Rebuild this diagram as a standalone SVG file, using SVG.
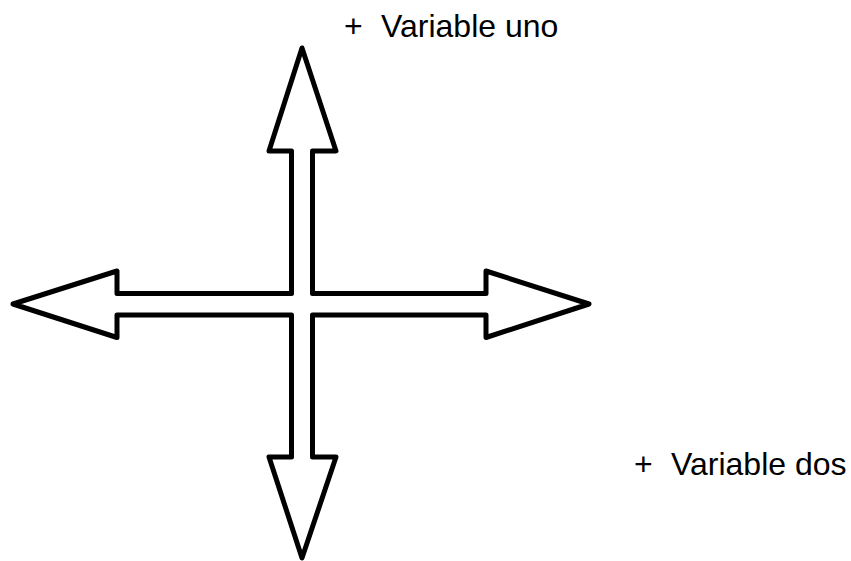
<svg xmlns="http://www.w3.org/2000/svg" width="851" height="561" viewBox="0 0 851 561">
<style>
.arrow{fill:#ffffff;stroke:#000000;stroke-width:5;stroke-linejoin:round}
.lbl{font-family:"Liberation Sans",Arial,sans-serif;font-size:32px;fill:#000000}
</style>
<rect width="851" height="561" fill="#ffffff"/>
<g id="cross-arrow">
<polygon class="arrow" points="302,48 336,151 312.5,151 312.5,293.5 486,293.5 486,271 589,304 486,337.5 486,315 312.5,315 312.5,457 336,457 302,558 269,457 291.5,457 291.5,315 117,315 117,337.5 13,304 117,271 117,293.5 291.5,293.5 291.5,151 269,151"/>
</g>
<g id="label-uno">
<text class="lbl" y="37"><tspan x="344">+</tspan><tspan x="381">Variable uno</tspan></text>
</g>
<g id="label-dos">
<text class="lbl" y="475"><tspan x="634">+</tspan><tspan x="671">Variable dos</tspan></text>
</g>
</svg>
